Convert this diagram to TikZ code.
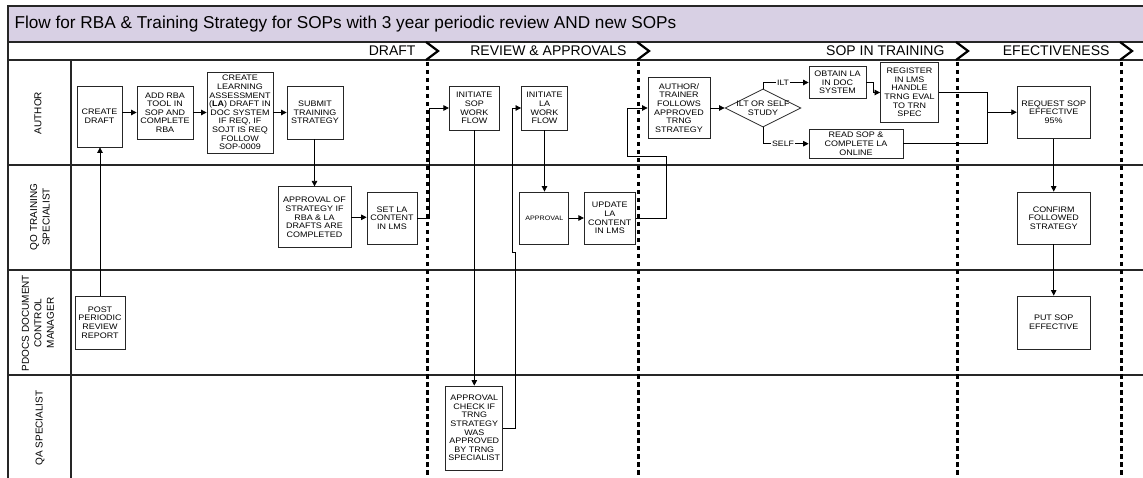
\documentclass[tikz,border=0pt]{standalone}
\usepackage{fontspec}
\setmainfont{Liberation Sans}
\newfontfamily\boxff[FakeStretch=1.12]{Liberation Sans}
\usetikzlibrary{arrows.meta,shapes.geometric}
\definecolor{titlec}{RGB}{216,208,228}
\begin{document}
\begin{tikzpicture}[x=1pt,y=-1pt,
  box/.style={draw=black!85, line width=0.8pt, align=center, inner sep=0pt, fill=white,
    font=\boxff\fontsize{8}{8.6}\selectfont},
  conn/.style={draw=black, line width=0.75pt},
  arr/.style={conn, -{Triangle[length=5.5pt,width=5.5pt]}},
  lanel/.style={draw=black!85, line width=1.1pt},
  phasel/.style={draw=black, line width=3pt, dash pattern=on 4.5pt off 3.5pt},
  chev/.style={draw=black, line width=2.2pt, line join=miter},
  lanelabel/.style={rotate=90, align=center, font=\fontsize{10}{12.5}\selectfont},
  phaselabel/.style={anchor=east, font=\fontsize{14}{16}\selectfont},
  brlabel/.style={fill=white, inner sep=1pt, font=\boxff\fontsize{7.8}{8.6}\selectfont}]
\useasboundingbox (0,0) rectangle (1143,478);
\fill[white] (0,0) rectangle (1143,478);
% frame
\draw[lanel, fill=titlec] (8,6) rectangle (1150,42);
\node[anchor=west, font=\fontsize{17.2}{19}\selectfont] (title) at (11,24) {Flow for RBA \& Training Strategy for SOPs with 3 year periodic review AND new SOPs};
\draw[lanel] (8,42) -- (8,482);
\draw[lanel] (8,60) -- (1150,60);
\draw[lanel] (8,165) -- (1150,165);
\draw[lanel] (8,270) -- (1150,270);
\draw[lanel] (8,375) -- (1150,375);
\draw[lanel] (71,60) -- (71,482);
% lane labels
\node[lanelabel] (l1) at (38,113) {AUTHOR};
\node[lanelabel] (l2) at (40,217) {QO TRAINING\\SPECIALIST};
\node[lanelabel] (l3) at (38,323) {PDOCS DOCUMENT\\CONTROL\\MANAGER};
\node[lanelabel] (l4) at (40,428) {QA SPECIALIST};
% phases
\node[phaselabel] (p1) at (419,51) {DRAFT};
\node[phaselabel] (p2) at (630,51) {REVIEW \& APPROVALS};
\node[phaselabel] (p3) at (948,51) {SOP IN TRAINING};
\node[phaselabel] (p4) at (1113,51) {EFECTIVENESS};
\foreach \xx in {427,638,957,1121}{
  \draw[chev] (\xx-1,42) -- (\xx+11,51) -- (\xx-1,60);
  \draw[phasel] (\xx,62) -- (\xx,482);
}
% boxes
\node[box, minimum width=45pt, minimum height=61pt] (draft) at (99.5,116.5) {CREATE\\DRAFT};
\node[box, minimum width=56pt, minimum height=53pt] (rba) at (165,112.5) {ADD RBA\\TOOL IN\\SOP AND\\COMPLETE\\RBA};
\node[box, minimum width=66pt, minimum height=81pt] (la) at (240,112.5) {CREATE\\LEARNING\\ASSESSMENT\\(\textbf{LA}) DRAFT IN\\DOC SYSTEM\\IF REQ, IF\\SOJT IS REQ\\FOLLOW\\SOP-0009};
\node[box, minimum width=56pt, minimum height=53pt] (submit) at (315,112.5) {SUBMIT\\TRAINING\\STRATEGY};
\node[box, minimum width=50pt, minimum height=53pt] (post) at (100,322.5) {POST\\PERIODIC\\REVIEW\\REPORT};
\node[box, minimum width=73pt, minimum height=61pt] (appstrat) at (314.5,217.3) {APPROVAL OF\\STRATEGY IF\\RBA \& LA\\DRAFTS ARE\\COMPLETED};
\node[box, minimum width=50pt, minimum height=52pt] (setla) at (392,218) {SET LA\\CONTENT\\IN LMS};
\node[box, minimum width=50pt, minimum height=44pt] (initsop) at (474.3,108) {INITIATE\\SOP\\WORK\\FLOW};
\node[box, minimum width=46pt, minimum height=44pt] (initla) at (544.5,108) {INITIATE\\LA\\WORK\\FLOW};
\node[box, minimum width=49pt, minimum height=52pt, font=\boxff\fontsize{6.4}{8}\selectfont] (approval) at (544.3,218) {APPROVAL};
\node[box, minimum width=51pt, minimum height=52pt] (updatela) at (609.8,218) {UPDATE\\LA\\CONTENT\\IN LMS};
\node[box, minimum width=57pt, minimum height=84pt] (appcheck) at (474.3,428) {APPROVAL\\CHECK IF\\TRNG\\STRATEGY\\WAS\\APPROVED\\BY TRNG\\SPECIALIST};
\node[box, minimum width=62pt, minimum height=61pt] (trainer) at (679,108) {AUTHOR/\\TRAINER\\FOLLOWS\\APPROVED\\TRNG\\STRATEGY};
\node[diamond, draw=black!85, line width=0.8pt, minimum width=76pt, minimum height=38pt, inner sep=0pt, fill=white] (dia) at (763,108) {};
\node[align=center, font=\boxff\fontsize{8}{8.6}\selectfont] (diatext) at (763,108) {ILT OR SELF\\STUDY};
\node[box, minimum width=57pt, minimum height=32pt] (obtain) at (837.5,82.5) {OBTAIN LA\\IN DOC\\SYSTEM};
\node[box, minimum width=58pt, minimum height=60pt] (register) at (909.5,92.5) {REGISTER\\IN LMS\\HANDLE\\TRNG EVAL\\TO TRN\\SPEC};
\node[box, minimum width=94pt, minimum height=29pt] (read) at (856,143.7) {READ SOP \&\\COMPLETE LA\\ONLINE};
\node[box, minimum width=73pt, minimum height=52pt] (request) at (1053.7,112.2) {REQUEST SOP\\EFFECTIVE\\95\%};
\node[box, minimum width=73pt, minimum height=52pt] (confirm) at (1053.7,218) {CONFIRM\\FOLLOWED\\STRATEGY};
\node[box, minimum width=73pt, minimum height=53pt] (putsop) at (1053.7,322.5) {PUT SOP\\EFFECTIVE};
% connectors
\draw[arr] (draft.east |- rba.west) -- (rba.west);
\draw[arr] (rba.east) -- (la.west);
\draw[arr] (la.east) -- (submit.west);
\draw[arr] (post.north) -- (draft.south -| post.north);
\draw[arr] (submit.south -| appstrat.north) -- (appstrat.north);
\draw[arr] (appstrat.east) -- (setla.west |- appstrat.east);
\draw[arr] (setla.east) -- ++(12,0) |- (initsop.west);
\draw[arr] (initsop.south) -- (appcheck.north);
\draw[arr] (appcheck.east) -- ++(12.5,0) |- (512.3,252) |- (initla.west);
\draw[arr] (initla.south) -- (approval.north -| initla.south);
\draw[arr] (approval.east) -- (updatela.west);
\draw[arr] (updatela.east) -- ++(31,0) |- (627.7,156) |- (trainer.west);
\draw[arr] (trainer.east) -- (dia.west);
\draw[arr] (dia.north) |- node[brlabel, pos=0.72] {ILT} (obtain.west);
\draw[arr] (dia.south) |- node[brlabel, pos=0.72] {SELF} (read.west);
\draw[arr] (obtain.east) -- ++(7,0) |- (register.west);
\draw[arr] (register.east) -- (987.7,92.5) |- (request.west);
\draw[conn] (read.east) -| (987.7,112.2);
\draw[arr] (request.south) -- (confirm.north);
\draw[arr] (confirm.south) -- (putsop.north);
\end{tikzpicture}
\end{document}
